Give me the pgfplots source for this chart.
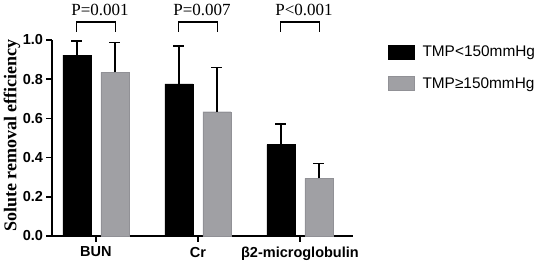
\documentclass[border=0pt]{standalone}
\usepackage{fontspec}
\setmainfont{Liberation Serif}
\setsansfont{Liberation Sans}
\usepackage{pgfplots}
\pgfplotsset{compat=1.18}
\definecolor{barGray}{RGB}{160,160,164}
\definecolor{barGrayEdge}{RGB}{145,145,150}
\begin{document}
\begin{tikzpicture}
\begin{axis}[
  at={(0,0)}, anchor=south west,
  scale only axis, width=301bp, height=196bp,
  xmin=-0.43, xmax=2.52, ymin=0, ymax=1,
  enlargelimits=false, clip=false,
  axis lines*=left,
  axis line style={line width=1.5bp, black},
  tick style={line width=1.5bp, black},
  major tick length=5.5bp, tick align=outside,
  xtick={0,1,2}, xticklabels={BUN,Cr,β2-microglobulin},
  ytick={0,0.2,0.4,0.6,0.8,1.0},
  yticklabel style={/pgf/number format/.cd, fixed, fixed zerofill, precision=1, assume math mode=true},
  ticklabel style={font=\sffamily\bfseries\fontsize{14.5bp}{17bp}\selectfont},
  xticklabel style={yshift=-2bp},
  ylabel={Solute removal efficiency},
  ylabel style={font=\rmfamily\bfseries\fontsize{18bp}{21bp}\selectfont, at={(axis description cs:-0.133,0.513)}, anchor=center},
  legend style={at={(1.116,0.98)}, anchor=north west, draw=none, fill=none, inner sep=0pt,
    font=\sffamily\fontsize{15.4bp}{18bp}\selectfont, row sep=15bp},
  legend cell align=left,
]
\addplot[ybar, bar width=28bp, bar shift=-19bp, fill=black, draw=black,
  legend image code/.code={\draw[fill=black,draw=black] (0bp,-7bp) rectangle (26bp,7bp); \path (32bp,0bp);}]
  coordinates {(0,0.923) (1,0.776) (2,0.466)};
\addlegendentry{TMP<150mmHg}
\addplot[ybar, bar width=28bp, bar shift=19bp, fill=barGray, draw=barGrayEdge,
  legend image code/.code={\draw[fill=barGray,draw=barGrayEdge] (0bp,-7bp) rectangle (26bp,7bp); \path (32bp,0bp);}]
  coordinates {(0,0.835) (1,0.634) (2,0.294)};
\addlegendentry{TMP≥150mmHg}
% error bars (upper only), at the bar centres
\addplot[draw=none, mark=none, forget plot,
  error bars/.cd, y dir=plus, y explicit,
  error bar style={line width=1.5bp, black},
  error mark options={rotate=90, mark size=5.5bp, line width=1.5bp, black}]
  coordinates {(-0.1862,0.923) +- (0,0.073) (0.8138,0.776) +- (0,0.193) (1.8138,0.466) +- (0,0.105)};
\addplot[draw=none, mark=none, forget plot,
  error bars/.cd, y dir=plus, y explicit,
  error bar style={line width=1.5bp, black},
  error mark options={rotate=90, mark size=5.5bp, line width=1.5bp, black}]
  coordinates {(0.1862,0.835) +- (0,0.153) (1.1862,0.634) +- (0,0.225) (2.1862,0.294) +- (0,0.077)};
\draw[line width=1.5bp] (axis cs:-0.19,1.043) |- (axis cs:0.19,1.093) -- (axis cs:0.19,1.043);
\draw[line width=1.5bp] (axis cs:0.81,1.043) |- (axis cs:1.19,1.093) -- (axis cs:1.19,1.043);
\draw[line width=1.5bp] (axis cs:1.81,1.043) |- (axis cs:2.19,1.093) -- (axis cs:2.19,1.043);
\node[font=\rmfamily\fontsize{17bp}{20bp}\selectfont, anchor=base, inner sep=0pt] at (axis cs:0.04,1.124) {P=0.001};
\node[font=\rmfamily\fontsize{17bp}{20bp}\selectfont, anchor=base, inner sep=0pt] at (axis cs:1.04,1.124) {P=0.007};
\node[font=\rmfamily\fontsize{17bp}{20bp}\selectfont, anchor=base, inner sep=0pt] at (axis cs:2.04,1.124) {P<0.001};
\end{axis}
\pgfresetboundingbox
\path[use as bounding box] (-52bp,-25bp) rectangle (484bp,236bp);
\end{tikzpicture}
\end{document}
